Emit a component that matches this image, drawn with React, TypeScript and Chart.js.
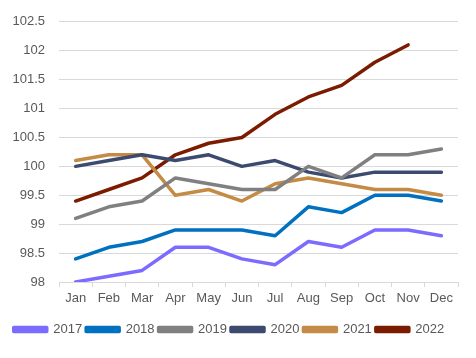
import React, { useEffect, useRef } from "react";
import { Chart, registerables } from "chart.js";

Chart.register(...registerables);

const months = ["Jan", "Feb", "Mar", "Apr", "May", "Jun", "Jul", "Aug", "Sep", "Oct", "Nov", "Dec"];
const s2017 = [98.0, 98.1, 98.2, 98.6, 98.6, 98.4, 98.3, 98.7, 98.6, 98.9, 98.9, 98.8];
const s2018 = [98.4, 98.6, 98.7, 98.9, 98.9, 98.9, 98.8, 99.3, 99.2, 99.5, 99.5, 99.4];
const s2019 = [99.1, 99.3, 99.4, 99.8, 99.7, 99.6, 99.6, 100.0, 99.8, 100.2, 100.2, 100.3];
const s2020 = [100.0, 100.1, 100.2, 100.1, 100.2, 100.0, 100.1, 99.9, 99.8, 99.9, 99.9, 99.9];
const s2021 = [100.1, 100.2, 100.2, 99.5, 99.6, 99.4, 99.7, 99.8, 99.7, 99.6, 99.6, 99.5];
const s2022 = [99.4, 99.6, 99.8, 100.2, 100.4, 100.5, 100.9, 101.2, 101.4, 101.8, 102.1, null];

const seriesNames = ["2017", "2018", "2019", "2020", "2021", "2022"];
const seriesData = [s2017, s2018, s2019, s2020, s2021, s2022];
const colors = ["#7B6CFF", "#0070C0", "#808080", "#3B4A6E", "#C48B45", "#7B1C00"];

export default function App() {
  const ref = useRef<HTMLCanvasElement>(null);
  useEffect(() => {
    document.body.style.margin = "0";
    const font = { family: "'Liberation Sans', Arial, sans-serif", size: 13 };
    const chart = new Chart(ref.current!, {
      type: "line",
      data: {
        labels: months,
        datasets: seriesNames.map((n, i) => ({
          label: n,
          data: seriesData[i],
          borderColor: colors[i],
          backgroundColor: colors[i],
          borderWidth: 3.5,
          pointRadius: 0,
          tension: 0,
          borderCapStyle: "round" as const,
          borderJoinStyle: "round" as const,
        })),
      },
      options: {
        responsive: false,
        animation: false,
        layout: { padding: { top: 6, right: 18, left: 0, bottom: 12 } },
        plugins: {
          tooltip: { enabled: false },
          legend: {
            position: "bottom",
            labels: {
              boxWidth: 33,
              boxHeight: 4,
              padding: 4,
              color: "#595959",
              font,
            },
          },
        },
        scales: {
          x: {
            offset: true,
            grid: {
              offset: true,
              drawOnChartArea: false,
              drawTicks: true,
              tickLength: 5,
              color: "#d9d9d9",
            },
            border: { color: "#d9d9d9" },
            ticks: { color: "#595959", font, padding: 4, maxRotation: 0 },
            afterFit: (s: any) => {
              s.height = 37;
            },
          },
          y: {
            min: 98,
            max: 102.5,
            grid: { color: "#d9d9d9", drawTicks: false, lineWidth: 1 },
            border: { display: false },
            ticks: {
              stepSize: 0.5,
              color: "#595959",
              font,
              padding: 14,
              callback: (v: any) => String(Number(v)),
            },
            afterFit: (s: any) => {
              s.width = 59;
            },
          },
        },
      },
    });
    return () => chart.destroy();
  }, []);
  return <canvas ref={ref} width={476} height={358} style={{ display: "block" }} />;
}
